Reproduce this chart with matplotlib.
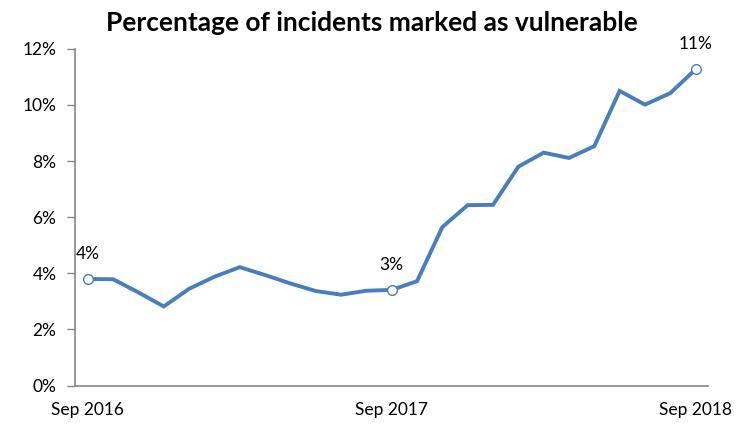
import matplotlib.pyplot as plt
from matplotlib.ticker import FuncFormatter

plt.rcParams['font.family'] = ['Lato', 'DejaVu Sans']

# monthly share of incidents flagged as vulnerable, Sep 2016 .. Sep 2018
months = ['Sep 2016', 'Oct 2016', 'Nov 2016', 'Dec 2016', 'Jan 2017', 'Feb 2017',
          'Mar 2017', 'Apr 2017', 'May 2017', 'Jun 2017', 'Jul 2017', 'Aug 2017',
          'Sep 2017', 'Oct 2017', 'Nov 2017', 'Dec 2017', 'Jan 2018', 'Feb 2018',
          'Mar 2018', 'Apr 2018', 'May 2018', 'Jun 2018', 'Jul 2018', 'Aug 2018',
          'Sep 2018']
pct = [3.80, 3.79, 3.32, 2.82, 3.45, 3.88, 4.22, 3.94, 3.64, 3.37, 3.24, 3.38,
       3.41, 3.72, 5.65, 6.43, 6.44, 7.80, 8.30, 8.11, 8.53, 10.50, 10.01, 10.42,
       11.27]
labelled = [0, 12, 24]
xtick_labels = ['Sep 2016', 'Sep 2017', 'Sep 2018']
yticks = [0, 2, 4, 6, 8, 10, 12]

blue = '#4A7EBB'
grey = '#868686'

fig = plt.figure(figsize=(7.37, 4.28), dpi=100)
ax = fig.add_axes([0.102, 0.099, 0.859, 0.787])

x = list(range(len(months)))
ax.plot(x, pct, color=blue, lw=2.8, solid_joinstyle='miter')
ax.plot([x[i] for i in labelled], [pct[i] for i in labelled], 'o', ms=7,
        mfc='white', mec=blue, mew=1.0, ls='none')
for i in labelled:
    ax.annotate('%d%%' % round(pct[i]), (x[i], pct[i]), xytext=(0, 18),
                textcoords='offset points', ha='center', va='center',
                fontsize=12.5, color='black')

ax.set_xlim(-0.5, len(months) - 0.5)
ax.set_ylim(0, 12)
ax.set_yticks(yticks)
ax.yaxis.set_major_formatter(FuncFormatter(lambda v, p: '%d%%' % v))
ax.set_xticks([months.index(m) for m in xtick_labels])
ax.set_xticklabels(xtick_labels)

for s in ['top', 'right']:
    ax.spines[s].set_visible(False)
for s in ['left', 'bottom']:
    ax.spines[s].set_color(grey)
    ax.spines[s].set_linewidth(1.2)
ax.tick_params(axis='y', length=5.5, width=1.0, color=grey, labelsize=12.5, pad=8)
ax.tick_params(axis='x', length=0, labelsize=12.5, pad=12)

fig.suptitle('Percentage of incidents marked as vulnerable', x=0.505, y=0.975,
             fontsize=19, fontweight='bold')

fig.savefig('out.png', dpi=100)
